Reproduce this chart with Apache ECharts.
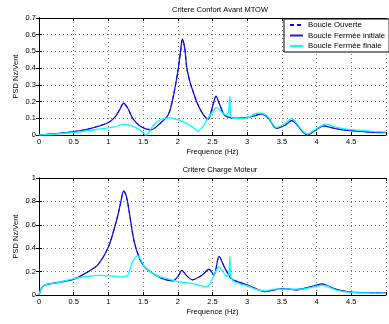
<!DOCTYPE html>
<html><head><meta charset="utf-8">
<script src="https://cdn.jsdelivr.net/npm/echarts@6/dist/echarts.min.js"></script>
<style>html,body{margin:0;padding:0;background:#fff}#c{width:389px;height:324px}</style>
</head><body><div id="c"></div>
<script>
// ---- data ----
const seriesNames = ['Boucle Ouverte', 'Boucle Fermée initiale', 'Boucle Fermée finale'];
const titles = ['Critere Confort Avant MTOW', 'Critere Charge Moteur'];
const xTicks = [0, 0.5, 1, 1.5, 2, 2.5, 3, 3.5, 4, 4.5, 5];
const yTicksTop = [0, 0.1, 0.2, 0.3, 0.4, 0.5, 0.6, 0.7];
const yTicksBottom = [0, 0.2, 0.4, 0.6, 0.8, 1];

// Top plot: Critere Confort Avant MTOW
const topFreqInit = [0, 0.25, 0.5, 0.75, 1.0, 1.1, 1.16, 1.22, 1.28, 1.35, 1.45, 1.55, 1.62, 1.72, 1.86, 1.93, 2.0, 2.04, 2.065, 2.1, 2.13, 2.18, 2.22, 2.27, 2.34, 2.41, 2.44, 2.48, 2.52, 2.55, 2.595, 2.67, 2.74, 2.85, 3.0, 3.1, 3.2, 3.3, 3.42, 3.55, 3.64, 3.72, 3.8, 3.87, 3.95, 4.02, 4.1, 4.2, 4.35, 4.56, 4.75, 5.0];
const topInit     = [0, 0.008, 0.02, 0.04, 0.075, 0.11, 0.15, 0.19, 0.16, 0.1, 0.055, 0.035, 0.032, 0.06, 0.12, 0.22, 0.38, 0.5, 0.575, 0.52, 0.4, 0.31, 0.26, 0.2, 0.14, 0.1, 0.095, 0.14, 0.2, 0.232, 0.19, 0.12, 0.105, 0.1, 0.105, 0.115, 0.125, 0.105, 0.04, 0.06, 0.086, 0.06, 0.02, 0.002, 0.02, 0.04, 0.054, 0.045, 0.032, 0.024, 0.018, 0.014];
const topOuverte  = [0, 0.008, 0.02, 0.04, 0.075, 0.11, 0.15, 0.19, 0.16, 0.1, 0.055, 0.035, 0.032, 0.06, 0.12, 0.22, 0.38, 0.5, 0.57, 0.52, 0.4, 0.31, 0.26, 0.2, 0.14, 0.1, 0.095, 0.14, 0.2, 0.232, 0.19, 0.12, 0.105, 0.1, 0.105, 0.115, 0.125, 0.105, 0.04, 0.06, 0.086, 0.06, 0.02, 0.002, 0.02, 0.04, 0.054, 0.045, 0.032, 0.024, 0.018, 0.014];
const topFreqFin = [0, 0.25, 0.5, 0.75, 1.0, 1.1, 1.22, 1.32, 1.42, 1.5, 1.54, 1.65, 1.72, 1.8, 1.88, 1.95, 2.05, 2.15, 2.22, 2.29, 2.36, 2.43, 2.5, 2.56, 2.62, 2.69, 2.73, 2.75, 2.765, 2.8, 2.9, 3.0, 3.14, 3.2, 3.3, 3.42, 3.55, 3.64, 3.72, 3.8, 3.87, 3.95, 4.05, 4.13, 4.25, 4.4, 4.56, 4.8, 5.0];
const topFin     = [0, 0.006, 0.015, 0.028, 0.042, 0.05, 0.063, 0.058, 0.04, 0.015, 0.0, 0.06, 0.085, 0.1, 0.102, 0.097, 0.085, 0.065, 0.045, 0.025, 0.05, 0.1, 0.135, 0.165, 0.14, 0.12, 0.14, 0.233, 0.11, 0.1, 0.1, 0.102, 0.13, 0.13, 0.11, 0.045, 0.07, 0.1, 0.065, 0.025, 0.005, 0.025, 0.05, 0.066, 0.05, 0.037, 0.03, 0.022, 0.018];

// Bottom plot: Critere Charge Moteur
const botFreqInit = [0, 0.03, 0.08, 0.15, 0.3, 0.5, 0.71, 0.85, 1.0, 1.1, 1.14, 1.18, 1.22, 1.26, 1.3, 1.37, 1.45, 1.52, 1.58, 1.68, 1.8, 1.93, 2.0, 2.06, 2.12, 2.21, 2.35, 2.45, 2.52, 2.595, 2.67, 2.77, 2.88, 3.0, 3.1, 3.26, 3.4, 3.5, 3.7, 3.85, 4.0, 4.07, 4.15, 4.3, 4.5, 4.75, 5.0];
const botInit     = [0, 0.05, 0.085, 0.095, 0.11, 0.135, 0.2, 0.26, 0.41, 0.6, 0.69, 0.8, 0.89, 0.84, 0.71, 0.46, 0.31, 0.24, 0.21, 0.17, 0.135, 0.12, 0.157, 0.21, 0.17, 0.13, 0.17, 0.22, 0.17, 0.33, 0.24, 0.14, 0.11, 0.086, 0.06, 0.03, 0.045, 0.055, 0.045, 0.06, 0.085, 0.094, 0.08, 0.045, 0.025, 0.02, 0.015];
const botOuverte  = [0, 0.05, 0.085, 0.095, 0.11, 0.135, 0.2, 0.26, 0.41, 0.6, 0.69, 0.8, 0.885, 0.84, 0.71, 0.46, 0.31, 0.24, 0.21, 0.17, 0.135, 0.12, 0.157, 0.21, 0.17, 0.13, 0.17, 0.22, 0.17, 0.33, 0.24, 0.14, 0.11, 0.086, 0.06, 0.03, 0.045, 0.055, 0.045, 0.06, 0.085, 0.094, 0.08, 0.045, 0.025, 0.02, 0.015];
const botFreqFin = [0, 0.03, 0.08, 0.15, 0.3, 0.5, 0.7, 0.87, 1.05, 1.2, 1.25, 1.28, 1.35, 1.42, 1.47, 1.52, 1.6, 1.72, 1.85, 2.0, 2.1, 2.2, 2.3, 2.38, 2.42, 2.48, 2.54, 2.59, 2.65, 2.7, 2.735, 2.75, 2.765, 2.8, 2.9, 3.0, 3.1, 3.25, 3.4, 3.5, 3.7, 3.85, 4.0, 4.07, 4.15, 4.3, 4.5, 4.75, 5.0];
const botFin     = [0, 0.05, 0.085, 0.095, 0.11, 0.14, 0.16, 0.168, 0.163, 0.155, 0.16, 0.17, 0.285, 0.335, 0.3, 0.24, 0.2, 0.16, 0.14, 0.115, 0.105, 0.1, 0.085, 0.072, 0.07, 0.12, 0.19, 0.24, 0.2, 0.16, 0.17, 0.33, 0.15, 0.12, 0.095, 0.08, 0.055, 0.035, 0.05, 0.05, 0.05, 0.055, 0.075, 0.085, 0.075, 0.04, 0.022, 0.017, 0.013];

// ---- chart ----
const FONT = 'Liberation Sans';
const colOuv = '#0000ff', colInit = '#1c1cd6', colFin = '#00ffff';
const pair = (fs, vs) => fs.map((f, i) => [f, vs[i]]);

function xAxes(gi) {
  return [{
    type: 'value', gridIndex: gi, min: 0, max: 5, interval: 0.5,
    name: 'Frequence (Hz)', nameLocation: 'middle', nameGap: 13,
    nameTextStyle: { fontFamily: FONT, fontSize: 7.5, color: '#000' },
    axisLine: { show: true, onZero: false, lineStyle: { color: '#000', width: 1 } },
    axisTick: { show: true, inside: true, length: 3, lineStyle: { color: '#000' } },
    axisLabel: { fontFamily: FONT, fontSize: 7.5, color: '#000', margin: 3,
      formatter: v => (Math.abs(v - 5) < 1e-9 ? '' : String(+v.toFixed(1))) },
    splitLine: { show: true, lineStyle: { type: [1, 3], color: '#777', width: 1 } }
  }, {
    type: 'value', gridIndex: gi, min: 0, max: 5, interval: 0.5, position: 'top',
    axisLine: { show: true, onZero: false, lineStyle: { color: '#000', width: 1 } },
    axisTick: { show: true, inside: true, length: 3, lineStyle: { color: '#000' } },
    axisLabel: { show: false }, splitLine: { show: false }
  }];
}
function yAxes(gi, max, interval) {
  return [{
    type: 'value', gridIndex: gi, min: 0, max: max, interval: interval,
    name: 'PSD Nz/Vent', nameLocation: 'middle', nameGap: 19, nameRotate: 90, nameMoveOverlap: false,
    nameTextStyle: { fontFamily: FONT, fontSize: 7.5, color: '#000' },
    axisLine: { show: true, lineStyle: { color: '#000', width: 1 } },
    axisTick: { show: true, inside: true, length: 3, lineStyle: { color: '#000' } },
    axisLabel: { fontFamily: FONT, fontSize: 7.5, color: '#000', margin: 3,
      formatter: v => String(+v.toFixed(1)) },
    splitLine: { show: true, lineStyle: { type: [1, 3], color: '#777', width: 1 } }
  }, {
    type: 'value', gridIndex: gi, min: 0, max: max, interval: interval, position: 'right',
    axisLine: { show: true, lineStyle: { color: '#000', width: 1 } },
    axisTick: { show: true, inside: true, length: 3 }, axisLabel: { show: false }, splitLine: { show: false }
  }];
}
function lines(gi, fInit, vInit, vOuv, fFin, vFin) {
  const xi = gi * 2, yi = gi * 2;
  const base = { type: 'line', xAxisIndex: xi, yAxisIndex: yi, showSymbol: false, symbol: 'none', smooth: 0.3, animation: false };
  return [
    Object.assign({}, base, { name: seriesNames[1], data: pair(fInit, vInit), lineStyle: { color: colInit, width: 1.3 }, itemStyle: { color: colInit }, z: 2 }),
    Object.assign({}, base, { name: seriesNames[0], data: pair(fInit, vOuv), lineStyle: { color: colOuv, width: 1, type: [4, 3] }, itemStyle: { color: colOuv }, z: 3 }),
    Object.assign({}, base, { name: seriesNames[2], data: pair(fFin, vFin), lineStyle: { color: colFin, width: 1.3 }, itemStyle: { color: colFin }, z: 4 })
  ];
}

const chart = echarts.init(document.getElementById('c'), null, { renderer: 'canvas' });
chart.setOption({
  backgroundColor: '#fff',
  animation: false,
  title: [
    { text: titles[0], left: 215, top: 1, textAlign: 'center', textStyle: { fontFamily: FONT, fontSize: 7.5, fontWeight: 'normal', color: '#000' } },
    { text: titles[1], left: 215, top: 161, textAlign: 'center', textStyle: { fontFamily: FONT, fontSize: 7.5, fontWeight: 'normal', color: '#000' } }
  ],
  grid: [
    { left: 39, top: 18, width: 352, height: 117 },
    { left: 39, top: 178, width: 352, height: 117 }
  ],
  xAxis: [...xAxes(0), ...xAxes(1)],
  yAxis: [...yAxes(0, 0.7, 0.1), ...yAxes(1, 1, 0.2)],
  legend: {
    data: seriesNames, left: 284, top: 19, orient: 'vertical',
    itemWidth: 13, itemHeight: 6, itemGap: 2.5, padding: [2, 4, 2, 5],
    backgroundColor: '#fff', borderColor: '#000', borderWidth: 1,
    itemStyle: { opacity: 0 },
    textStyle: { fontFamily: FONT, fontSize: 7.8, color: '#000' },
    selectedMode: false
  },
  series: [
    ...lines(0, topFreqInit, topInit, topOuverte, topFreqFin, topFin),
    ...lines(1, botFreqInit, botInit, botOuverte, botFreqFin, botFin)
  ]
});
</script></body></html>
